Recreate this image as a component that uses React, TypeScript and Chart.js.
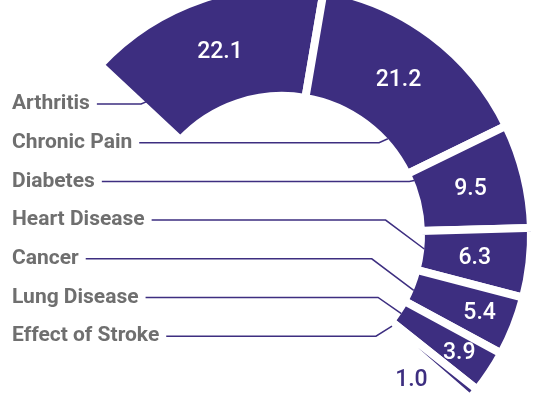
import React, { useEffect, useRef } from "react";
import { Chart, registerables } from "chart.js";

Chart.register(...registerables);

const categories = [
  "Arthritis",
  "Chronic Pain",
  "Diabetes",
  "Heart Disease",
  "Cancer",
  "Lung Disease",
  "Effect of Stroke",
];
const values = [22.1, 21.2, 9.5, 6.3, 5.4, 3.9, 1.0];
const valueLabels = ["22.1", "21.2", "9.5", "6.3", "5.4", "3.9", "1.0"];

const PURPLE = "#3d2e80";
const GRAY = "#6f6f6f";
const GAP = 8;

// where each leader line meets its slice: [fraction along the slice angle, fraction across the ring]
const anchors: [number, number][] = [
  [0.04, 0.45],
  [0.7, 0.0],
  [0.15, 0.0],
  [0.45, 0.0],
  [0.6, 0.0],
  [0.5, 0.0],
  [0.5, 0.0],
];

const labelPlugin = {
  id: "sideLabels",
  afterDatasetsDraw(chart: any) {
    const ctx: CanvasRenderingContext2D = chart.ctx;
    const meta = chart.getDatasetMeta(0);
    ctx.save();
    const geo = meta.data.map((arc: any) => {
      const p = arc.getProps(
        ["x", "y", "startAngle", "endAngle", "innerRadius", "outerRadius"],
        true
      );
      return {
        ...p,
        inner: p.innerRadius + GAP / 2,
        outer: p.outerRadius - GAP / 2,
      };
    });

    // value labels
    ctx.font = '500 23px Roboto, "Liberation Sans", sans-serif';
    ctx.textAlign = "center";
    ctx.textBaseline = "middle";
    geo.forEach((p: any, i: number) => {
      const txt = valueLabels[i];
      const w = ctx.measureText(txt).width;
      const alpha = p.endAngle - p.startAngle;
      let rm = (p.inner + p.outer) / 2;
      const arcLen = alpha * rm - GAP;
      let a = (p.startAngle + p.endAngle) / 2;
      if (arcLen > w * 1.3) {
        ctx.fillStyle = "#ffffff";
      } else if (arcLen > w * 0.6) {
        ctx.fillStyle = "#ffffff";
        rm = p.inner + (p.outer - p.inner) * 0.68;
      } else {
        ctx.fillStyle = PURPLE;
        a = p.endAngle + (w / 2 + 8) / rm;
      }
      ctx.fillText(txt, p.x + Math.cos(a) * rm, p.y + Math.sin(a) * rm + 1);
    });

    // category labels + leader lines
    ctx.font = 'bold 21px Roboto, "Liberation Sans", sans-serif';
    ctx.textAlign = "left";
    categories.forEach((c, i) => {
      const p = geo[i];
      const ly = 104 + 38.7 * i;
      ctx.fillStyle = GRAY;
      ctx.fillText(c, 12, ly);
      const w = ctx.measureText(c).width;
      const [fa, fr] = anchors[i];
      const ang = p.startAngle + (p.endAngle - p.startAngle) * fa;
      const rr = p.inner + (p.outer - p.inner) * fr;
      const ex = p.x + Math.cos(ang) * rr;
      const ey = p.y + Math.sin(ang) * rr;
      const bx = ex - Math.abs(ey - ly) * 1.2 - 4;
      ctx.strokeStyle = PURPLE;
      ctx.lineWidth = 1.5;
      ctx.beginPath();
      ctx.moveTo(12 + w + 7, ly);
      ctx.lineTo(bx, ly);
      ctx.lineTo(ex, ey);
      ctx.stroke();
    });
    ctx.restore();
  },
};

export default function App() {
  const ref = useRef<HTMLCanvasElement>(null);
  useEffect(() => {
    const chart = new Chart(ref.current as HTMLCanvasElement, {
      type: "doughnut",
      data: {
        labels: categories,
        datasets: [
          {
            data: values,
            backgroundColor: PURPLE,
            borderColor: "#ffffff",
            borderWidth: GAP,
            borderAlign: "center",
            borderJoinStyle: "miter",
            radius: 249,
            cutout: "55.8%",
          } as any,
        ],
      },
      options: {
        responsive: false,
        animation: false,
        rotation: -47,
        circumference: 178,
        cutout: "55.8%",
        radius: 249,
        layout: { padding: { left: 74, right: 0, top: 0, bottom: 14 } },
        plugins: {
          legend: { display: false },
          tooltip: { enabled: false },
        },
      } as any,
      plugins: [labelPlugin],
    });
    return () => chart.destroy();
  }, []);
  return (
    <div
      style={{
        position: "fixed",
        left: 0,
        top: 0,
        width: 557,
        height: 398,
        background: "#ffffff",
      }}
    >
      <canvas ref={ref} width={557} height={398} style={{ display: "block" }} />
    </div>
  );
}
